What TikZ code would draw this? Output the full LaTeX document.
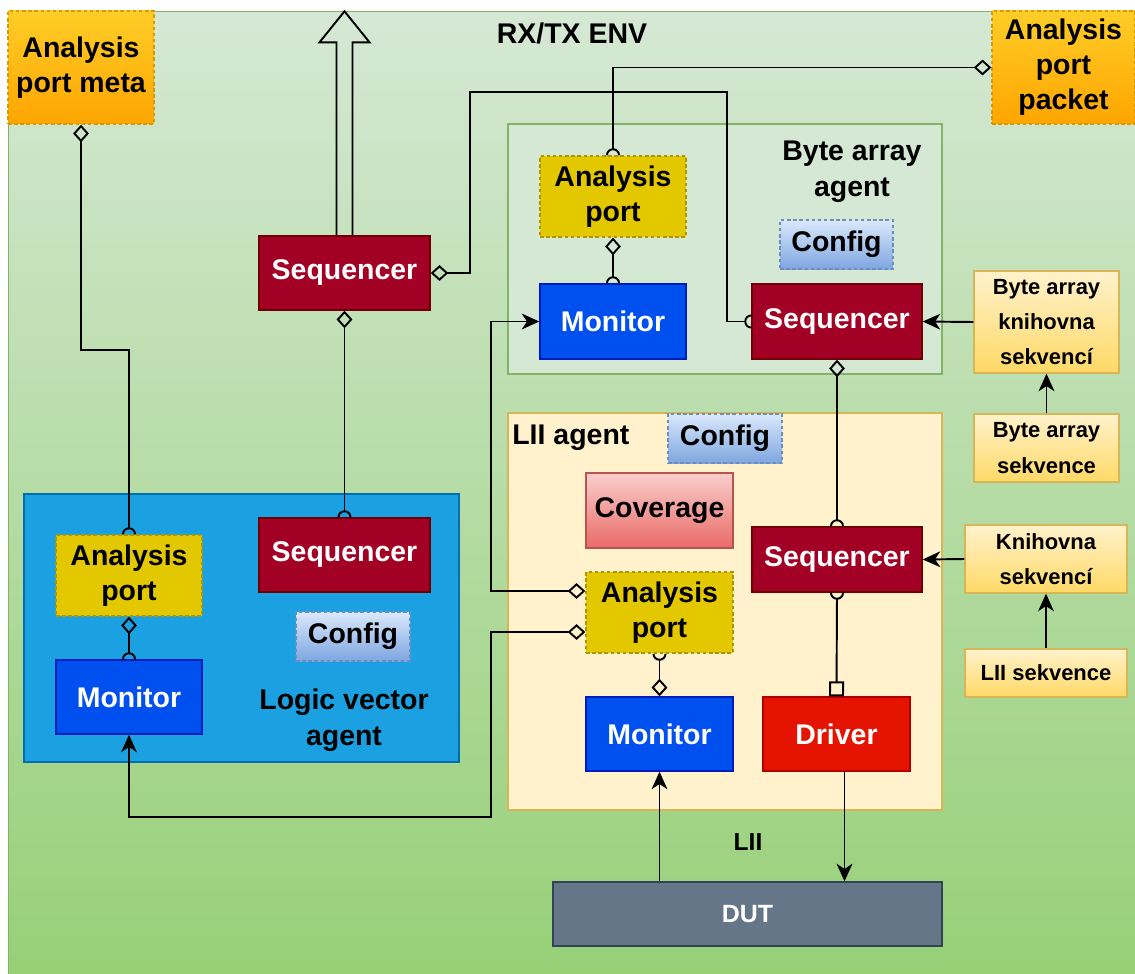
\documentclass[tikz,border=0pt]{standalone}
\usepackage{fontspec}
\setmainfont{Liberation Sans}
\usetikzlibrary{arrows.meta,calc}

\definecolor{envtop}{HTML}{D5E8D4}
\definecolor{envbot}{HTML}{97D077}
\definecolor{envline}{HTML}{82B366}
\definecolor{seqfill}{HTML}{A20025}
\definecolor{seqline}{HTML}{6F0000}
\definecolor{monfill}{HTML}{0050EF}
\definecolor{monline}{HTML}{001DBC}
\definecolor{portfill}{HTML}{E3C800}
\definecolor{portline}{HTML}{B09500}
\definecolor{cfgtop}{HTML}{DAE8FC}
\definecolor{cfgbot}{HTML}{7EA6E0}
\definecolor{cfgline}{HTML}{6C8EBF}
\definecolor{exttop}{HTML}{FFCD28}
\definecolor{extbot}{HTML}{FFA500}
\definecolor{extline}{HTML}{D79B00}
\definecolor{libtop}{HTML}{FFF2CC}
\definecolor{libbot}{HTML}{FFD966}
\definecolor{libline}{HTML}{D6B656}
\definecolor{covtop}{HTML}{F8CECC}
\definecolor{covbot}{HTML}{EA6B66}
\definecolor{covline}{HTML}{B85450}
\definecolor{drvfill}{HTML}{E51400}
\definecolor{drvline}{HTML}{B20000}
\definecolor{dutfill}{HTML}{647687}
\definecolor{dutline}{HTML}{314354}
\definecolor{lvfill}{HTML}{1BA1E2}
\definecolor{lvline}{HTML}{006EAF}

\tikzset{
  sz/.style 2 args={minimum width=#1*0.02cm, minimum height=#2*0.02cm},
  blk/.style={draw, line width=0.8pt, inner sep=0pt, align=center, font=\bfseries\fontsize{16.2}{20}\selectfont},
  seqbox/.style={blk, fill=seqfill, draw=seqline, text=white},
  monbox/.style={blk, fill=monfill, draw=monline, text=white},
  portbox/.style={blk, fill=portfill, draw=portline, dash pattern=on 2pt off 1.5pt},
  cfgbox/.style={blk, top color=cfgtop, bottom color=cfgbot, draw=cfgline, dash pattern=on 2pt off 1.5pt},
  extbox/.style={blk, top color=exttop, bottom color=extbot, draw=extline, dash pattern=on 2pt off 1.5pt},
  libbox/.style={blk, top color=libtop, bottom color=libbot, draw=libline, font=\bfseries\fontsize{12.5}{20}\selectfont},
  covbox/.style={blk, top color=covtop, bottom color=covbot, draw=covline},
  drvbox/.style={blk, fill=drvfill, draw=drvline, text=white},
  dutbox/.style={blk, fill=dutfill, draw=dutline, text=white, font=\bfseries\fontsize{14.2}{17}\selectfont},
  envbox/.style={draw=envline, line width=0.8pt, top color=envtop, bottom color=envbot, inner sep=0pt},
  agentbox/.style={draw, line width=0.8pt, inner sep=0pt},
  lbl/.style={inner sep=0pt, align=center, font=\bfseries\fontsize{16.2}{20.5}\selectfont},
  conn/.style={line width=1.1pt},
  ar/.style={conn, -{Stealth[length=10pt,width=9pt,inset=3pt]}},
  darr/.style={conn, {Diamond[open,length=10pt,width=9pt]}-{Stealth[length=10pt,width=9pt,inset=3pt]}},
  dhalf/.style={conn, {Diamond[open,length=10pt,width=9pt]}-{Arc Barb[reversed,length=4pt,width=8pt]}},
  halfdia/.style={conn, {Arc Barb[reversed,length=4pt,width=8pt]}-{Diamond[open,length=10pt,width=9pt]}},
  halfsq/.style={conn, {Arc Barb[reversed,length=4pt,width=8pt]}-{Square[open,length=8.5pt]}},
}

\begin{document}
\begin{tikzpicture}[x=0.02cm,y=-0.02cm]
\useasboundingbox (0,0) rectangle (1135,973);
\node[envbox, sz={1128}{963}, anchor=north west] (env) at (8,11) {};
\node[lbl] (envname) at (572,33) {RX/TX ENV};

\node[extbox, sz={146}{113}] (meta) at (81,67.5) {Analysis\\port meta};
\node[extbox, sz={143}{113}] (packet) at (1063.5,67.5) {Analysis\\port\\packet};

\node[seqbox, sz={171}{74}] (seqtop) at (344.5,273) {Sequencer};

% byte array agent
\node[agentbox, fill=envtop, draw=envline, sz={434}{250}] (baagent) at (725,249) {};
\node[lbl] (baname) at (852,172) {Byte array\\agent};
\node[portbox, sz={146}{81}] (baport) at (613,196.5) {Analysis\\port};
\node[cfgbox, sz={113}{49}] (bacfg) at (836.5,244.5) {Config};
\node[monbox, sz={146}{75}] (bamon) at (613,321.5) {Monitor};
\node[seqbox, sz={170}{75}] (baseq) at (837,321.5) {Sequencer};
\node[libbox, sz={145}{102}] (balib) at (1046.5,322) {Byte array\\knihovna\\sekvencí};
\node[libbox, sz={145}{68}] (baseqs) at (1046.5,448) {Byte array\\sekvence};

% LII agent
\node[agentbox, fill=libtop, draw=libline, sz={434}{397}] (liiagent) at (725,611.5) {};
\node[lbl, anchor=west] (liiname) at (512,438) {LII agent};
\node[cfgbox, sz={114}{49}] (liicfg) at (725,438.5) {Config};
\node[covbox, sz={147}{75}] (cov) at (659.5,510.5) {Coverage};
\node[seqbox, sz={170}{65}] (liiseq) at (837,559.5) {Sequencer};
\node[portbox, sz={147}{81}] (liiport) at (659.5,612.5) {Analysis\\port};
\node[monbox, sz={147}{74}] (liimon) at (659.5,734) {Monitor};
\node[drvbox, sz={147}{74}] (drv) at (836.5,734) {Driver};
\node[libbox, sz={162}{68}] (liilib) at (1046,559) {Knihovna\\sekvencí};
\node[libbox, sz={162}{48}] (liiseqs) at (1046,673) {LII sekvence};

\node[dutbox, sz={389}{64}] (dut) at (747.5,914) {DUT};
\node[lbl, font=\bfseries\fontsize{14}{17}\selectfont] (bus) at (748,842) {LII};

% logic vector agent
\node[agentbox, fill=lvfill, draw=lvline, sz={435}{268}] (lvagent) at (241.5,628) {};
\node[portbox, sz={146}{81}] (lvport) at (129,575.5) {Analysis\\port};
\node[seqbox, sz={171}{74}] (lvseq) at (344.5,555) {Sequencer};
\node[cfgbox, sz={114}{49}] (lvcfg) at (353,636.5) {Config};
\node[monbox, sz={146}{74}] (lvmon) at (129,697) {Monitor};
\node[lbl] (lvname) at (344,720) {Logic vector\\agent};

\draw[conn] ($(seqtop.north)+(-8,0)$) -- ++(0,-193) -- ++(-17,0) -- ($(seqtop.north)+(0,-224)$)
  -- ($(seqtop.north)+(25,-193)$) -- ++(-17,0) -- ($(seqtop.north)+(8,0)$);

\draw[dhalf] (meta.south) -- (meta.south |- 0,350) -| (lvport.north);
\draw[dhalf] (packet.west) -| (baport.north);
\draw[dhalf] (seqtop.east) -- ++(39,0) |- (727,92) |- (baseq.west);
\draw[dhalf] (seqtop.south) -- (lvseq.north);
\draw[dhalf] (baport.south) -- (bamon.north);
\draw[dhalf] (lvport.south) -- (lvmon.north);
\draw[dhalf] (baseq.south) -- (liiseq.north);
\draw[halfdia] (liiport.south) -- (liimon.north);
\draw[halfsq] (liiseq.south) -- (drv.north);

\draw[ar] (balib.west) -- (baseq.east);
\draw[ar] (baseqs.north) -- (balib.south);
\draw[ar] (liilib.west) -- (liiseq.east);
\draw[ar] (liiseqs.north) -- (liilib.south);

\draw[darr] ($(liiport.west)+(0,-21.5)$) -- ++(-94,0) |- (bamon.west);
\draw[darr] ($(liiport.west)+(0,19.5)$) -- ++(-94,0) -- ++(0,185) -| (lvmon.south);

\draw[ar] ($(drv.south)+(8,0)$) coordinate (drvout) -- (drvout |- dut.north);
\draw[ar] (dut.north -| liimon.south) -- (liimon.south);
\end{tikzpicture}
\end{document}
